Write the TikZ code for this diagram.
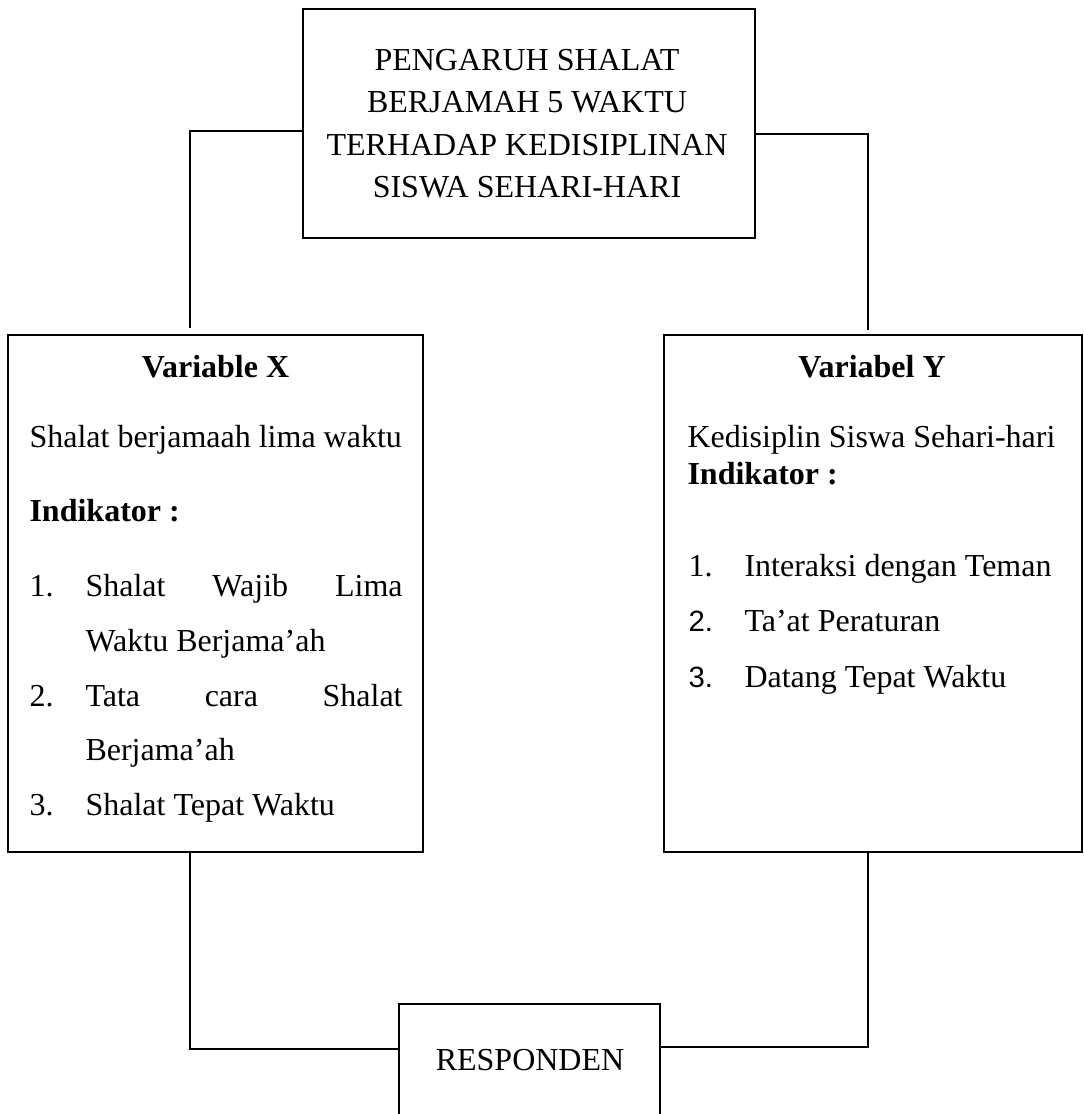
\documentclass[tikz,border=0pt]{standalone}
\usepackage{fontspec}
\setmainfont{Liberation Serif}
\newfontfamily\numsans{Liberation Sans}
\begin{document}
\begin{tikzpicture}[x=0.375pt,y=-0.375pt,
    kotak/.style={draw,line width=0.75pt,rectangle,inner sep=0pt},
    garis/.style={line width=0.75pt},
    teks/.style={inner sep=0pt,anchor=base west,font=\fontsize{12}{14}\selectfont},
    tengah/.style={teks,anchor=base},
    tebal/.style={teks,font=\fontsize{12}{14}\selectfont\bfseries}]
        \useasboundingbox (0,0) rectangle (1084,1114);
        \clip (0,0) rectangle (1084,1114);

        % Kotak-kotak utama
        \node[kotak,minimum width=169.5pt,minimum height=85.9pt] (judul) at (529,123.5) {};
        \node[kotak,minimum width=155.6pt,minimum height=193.9pt] (varx) at (215.5,593.5) {};
        \node[kotak,minimum width=156.75pt,minimum height=193.9pt] (vary) at (873,593.5) {};
        \node[kotak,minimum width=97.9pt,minimum height=48.75pt] (resp) at (529.5,1069) {};

        % Ujung garis penghubung
        \coordinate (xatas) at (190,328);
        \coordinate (yatas) at (868,330);

        % Garis penghubung
        \draw[garis] (xatas) |- ([yshift=-2.8pt]judul.west);
        \draw[garis] (yatas) |- ([yshift=-3.9pt]judul.east);
        \draw[garis] (varx.south -| xatas) |- ([yshift=7.5pt]resp.west);
        \draw[garis] (vary.south -| yatas) |- ([yshift=8.25pt]resp.east);

        % Judul
        \node[tengah] (j1) at (527,70.7) {PENGARUH SHALAT};
        \node[tengah] (j2) at (527,112.7) {BERJAMAH 5 WAKTU};
        \node[tengah] (j3) at (527,155) {TERHADAP KEDISIPLINAN};
        \node[tengah] (j4) at (527,197) {SISWA SEHARI-HARI};

        % Isi variabel X
        \node[tebal,anchor=base] (xjudul) at (215.5,377) {Variable X};
        \node[teks] (xdesk) at (29,447) {Shalat berjamaah lima waktu};
        \node[tebal] (xind) at (29,521) {Indikator :};
        \node[teks] (xn1) at (29,596) {1.};
        \node[teks] (xi1) at (85,596) {\makebox[118.9pt][s]{Shalat Wajib Lima}};
        \node[teks] (xi1b) at (85,651) {Waktu Berjama’ah};
        \node[teks] (xn2) at (29,706) {2.};
        \node[teks] (xi2) at (85,706) {\makebox[118.9pt][s]{Tata cara Shalat}};
        \node[teks] (xi2b) at (85,760) {Berjama’ah};
        \node[teks] (xn3) at (29,815) {3.};
        \node[teks] (xi3) at (85,815) {Shalat Tepat Waktu};

        % Isi variabel Y
        \node[tebal,anchor=base] (yjudul) at (872,377) {Variabel Y};
        \node[teks] (ydesk) at (687,447) {Kedisiplin Siswa Sehari-hari};
        \node[tebal] (yind) at (687,484) {Indikator :};
        \node[teks] (yn1) at (688,576) {1.};
        \node[teks] (yi1) at (744,576) {Interaksi dengan Teman};
        \node[teks,font=\fontsize{11}{13}\numsans] (yn2) at (688,631) {2.};
        \node[teks] (yi2) at (744,631) {Ta’at Peraturan};
        \node[teks,font=\fontsize{11}{13}\numsans] (yn3) at (688,687) {3.};
        \node[teks] (yi3) at (744,687) {Datang Tepat Waktu};

        % Responden
        \node[tengah] (resptek) at (530,1070) {RESPONDEN};

    \end{tikzpicture}
\end{document}
